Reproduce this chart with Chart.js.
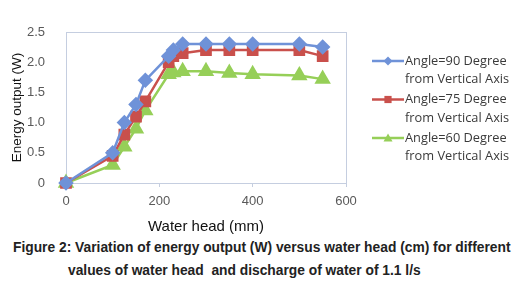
<!DOCTYPE html>
<html>
<head>
<meta charset="utf-8">
<script src="https://cdn.jsdelivr.net/npm/chart.js@4/dist/chart.umd.min.js"></script>
<style>
  body { margin: 0; background: #fff; width: 518px; height: 289px; position: relative; overflow: hidden; }
  canvas { position: absolute; left: 0; top: 0; }
  .cap { position: absolute; font: bold 13.8px "Liberation Sans", Arial, sans-serif; color: #222; white-space: pre; }
</style>
</head>
<body>
<canvas id="chart" width="518" height="236"></canvas>
<div class="cap" style="left:13px; top:240px;">Figure 2: Variation of energy output (W) versus water head (cm) for different</div>
<div class="cap" style="left:68px; top:263px;">values of water head  and discharge of water of 1.1 l/s</div>
<script>
// water head (mm) and energy output (W)
const waterHead = [0, 100, 125, 150, 170, 220, 230, 250, 300, 350, 400, 500, 550];
const angle90 = [0, 0.5, 1.0, 1.3, 1.7, 2.1, 2.2, 2.3, 2.3, 2.3, 2.3, 2.3, 2.25];
const angle75 = [0, 0.45, 0.8, 1.1, 1.35, 2.0, 2.1, 2.15, 2.2, 2.2, 2.2, 2.2, 2.1];
const angle60 = [0, 0.3, 0.6, 0.9, 1.2, 1.8, 1.83, 1.85, 1.85, 1.82, 1.8, 1.78, 1.72];
const seriesLabels = [
  ['Angle=90 Degree', 'from Vertical Axis'],
  ['Angle=75 Degree', 'from Vertical Axis'],
  ['Angle=60 Degree', 'from Vertical Axis']
];
const yTicks = [0, 0.5, 1, 1.5, 2, 2.5];
const xTicks = [0, 200, 400, 600];

function toPoints(values) {
  return values.map((v, i) => ({ x: waterHead[i], y: v }));
}

function drawMarker(ctx, style, x, y, r, color) {
  ctx.fillStyle = color;
  ctx.beginPath();
  if (style === 'rectRot') {
    ctx.moveTo(x, y - r); ctx.lineTo(x + r, y); ctx.lineTo(x, y + r); ctx.lineTo(x - r, y);
  } else if (style === 'rect') {
    ctx.rect(x - r * 0.8, y - r * 0.8, r * 1.6, r * 1.6);
  } else {
    ctx.moveTo(x, y - r); ctx.lineTo(x + r, y + r * 0.75); ctx.lineTo(x - r, y + r * 0.75);
  }
  ctx.closePath();
  ctx.fill();
}

// plot frame and two-line legend
const framePlugin = {
  id: 'frame',
  beforeDatasetsDraw(chart) {
    const a = chart.chartArea, ctx = chart.ctx;
    ctx.save();
    ctx.strokeStyle = '#c5cee0';
    ctx.lineWidth = 1;
    ctx.strokeRect(a.left + 0.5, a.top + 0.5, a.right - a.left, a.bottom - a.top);
    ctx.restore();
  },
  afterDraw(chart) {
    const ctx = chart.ctx;
    ctx.save();
    ctx.font = '12.8px "Open Sans", sans-serif';
    ctx.textBaseline = 'middle';
    chart.data.datasets.forEach((ds, i) => {
      const y = 61 + i * 38.5;
      ctx.strokeStyle = ds.borderColor;
      ctx.lineWidth = 2.5;
      ctx.beginPath(); ctx.moveTo(372, y); ctx.lineTo(404, y); ctx.stroke();
      drawMarker(ctx, ds.pointStyle, 388, y, 4.5, ds.backgroundColor);
      ctx.fillStyle = '#3a3a3a';
      ds.label.forEach((line, j) => ctx.fillText(line, 405, y + j * 18.5));
    });
    ctx.restore();
  }
};

const colors = ['#6f92d8', '#c9504c', '#96cf58'];
const styles = ['rectRot', 'rect', 'triangle'];
const radii = [6, 6.5, 7];

new Chart(document.getElementById('chart'), {
  type: 'line',
  data: {
    datasets: [angle90, angle75, angle60].map((vals, i) => ({
      label: seriesLabels[i],
      data: toPoints(vals),
      borderColor: colors[i],
      backgroundColor: colors[i],
      pointStyle: styles[i],
      pointRadius: radii[i],
      borderWidth: 2.5,
      clip: false
    }))
  },
  options: {
    responsive: false,
    animation: false,
    layout: { padding: { left: 0, right: 172, top: 32, bottom: 0 } },
    plugins: { legend: { display: false }, tooltip: { enabled: false } },
    scales: {
      x: {
        type: 'linear',
        min: 0, max: 600,
        afterBuildTicks: s => { s.ticks = xTicks.map(v => ({ value: v })); },
        afterFit: s => { s.height = 53; },
        grid: { drawOnChartArea: false, drawTicks: true, tickLength: 4, color: '#c5cee0' },
        border: { display: false },
        ticks: { padding: 7, color: '#595959', font: { family: '"Liberation Sans", Arial', size: 13 } },
        title: { display: true, text: 'Water head (mm)', color: '#111', padding: { top: 0, bottom: 0 },
                 font: { family: '"Liberation Sans", Arial', size: 15 } }
      },
      y: {
        min: 0, max: 2.5,
        afterBuildTicks: s => { s.ticks = yTicks.map(v => ({ value: v })); },
        afterFit: s => { s.width = 66; },
        grid: { display: false },
        border: { display: false },
        ticks: { padding: 13, color: '#595959', font: { family: '"Liberation Sans", Arial', size: 13 } },
        title: { display: true, text: 'Energy output (W)', color: '#111', padding: { top: 9, bottom: 0 },
                 font: { family: '"Liberation Sans", Arial', size: 13.5 } }
      }
    }
  },
  plugins: [framePlugin]
});
</script>
</body>
</html>
